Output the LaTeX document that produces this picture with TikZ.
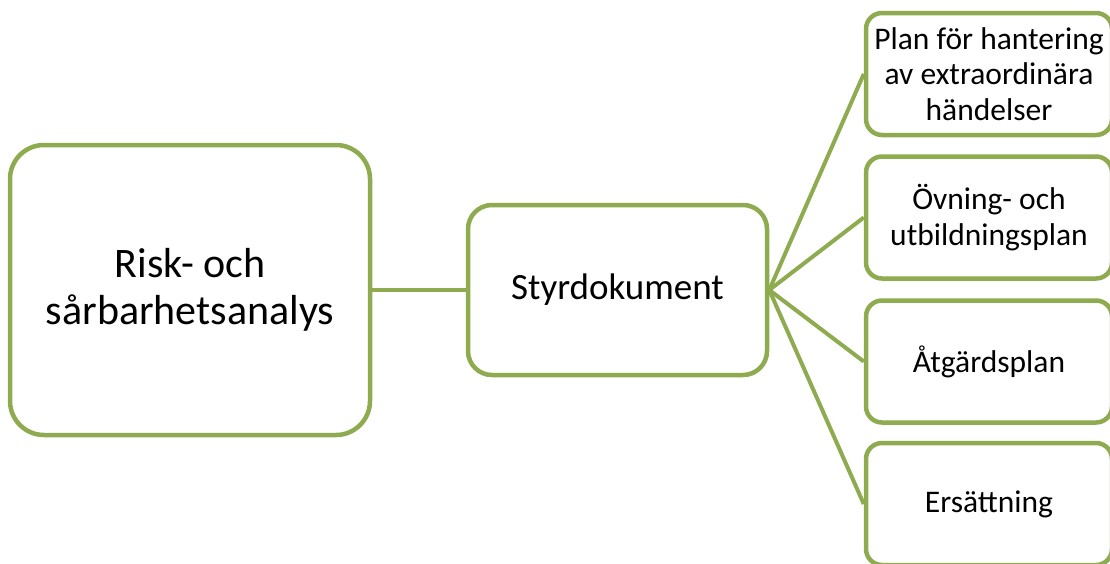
\documentclass[tikz,border=0pt]{standalone}
\usepackage{fontspec}
\setmainfont{Carlito}
\usepackage{tikz}
\usetikzlibrary{shapes}
\definecolor{olive}{RGB}{142,171,80}
\tikzstyle{every box}=[draw=olive,line width=4.5pt,rectangle,fill=white,align=center,inner sep=0pt]
\tikzstyle{bigbox}=[every box,rounded corners=34pt,minimum width=360pt,minimum height=290pt,font=\fontsize{42}{47}\selectfont]
\tikzstyle{midbox}=[every box,rounded corners=24pt,minimum width=299pt,minimum height=170pt,font=\fontsize{37}{43}\selectfont]
\tikzstyle{sidebox}=[every box,rounded corners=16pt,minimum width=246pt,minimum height=122pt,font=\fontsize{31.5}{35.5}\selectfont]
\tikzstyle{conn}=[olive,line width=4pt]
\begin{document}
\begin{tikzpicture}[x=1pt,y=-1pt]
\useasboundingbox (0,0) rectangle (1110,563);
\node[bigbox] (risk) at (190,290) {Risk- och\\sårbarhetsanalys};
\node[midbox] (styr) at (617.5,290) {Styrdokument};
\node[sidebox] (plan) at (989,74) {Plan för hantering\\av extraordinära\\händelser};
\node[sidebox] (ovning) at (989,217.5) {Övning- och\\utbildningsplan};
\node[sidebox] (atgard) at (989,361.5) {Åtgärdsplan};
\node[sidebox] (ersatt) at (989,504) {Ersättning};
\draw[conn] (risk.east) -- (styr.west);
\foreach \n in {plan,ovning,atgard,ersatt}
  \draw[conn] (styr.east) -- (\n.west);
\end{tikzpicture}
\end{document}
